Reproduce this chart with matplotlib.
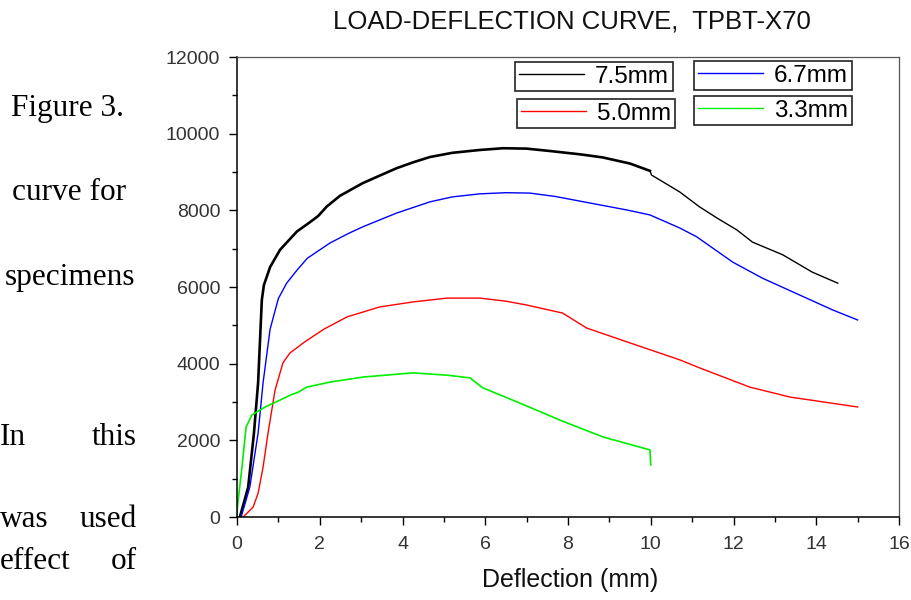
import matplotlib
matplotlib.use("Agg")
import matplotlib.pyplot as plt
from matplotlib.lines import Line2D
from matplotlib.ticker import MultipleLocator

# curves: deflection (mm), load
black_x = [0.07, 0.27, 0.41, 0.51, 0.6, 0.65, 0.8, 1.04, 1.45, 1.75, 1.96, 2.17, 2.49, 3.04,
           3.5, 3.86, 4.25, 4.66, 5.2, 5.87, 6.43, 7.0, 7.63, 8.3, 8.84, 9.5, 9.98,
           10.02, 10.7, 11.18, 11.6, 12.08, 12.46, 13.19, 13.9, 14.52]
black_y = [0, 780, 2190, 3500, 5660, 6050, 6520, 6970, 7450, 7680, 7850, 8100, 8380, 8710,
           8930, 9100, 9250, 9390, 9500, 9575, 9620, 9610, 9540, 9460, 9380, 9220, 9030,
           8920, 8480, 8090, 7800, 7490, 7170, 6840, 6390, 6100]
black_split = 27  # noisy (thick) part of the record ends near 10 mm

blue_x = [0.1, 0.31, 0.51, 0.63, 0.8, 1.0, 1.2, 1.45, 1.7, 2.25, 2.7, 3.04, 3.86, 4.66,
          5.2, 5.87, 6.5, 7.08, 7.7, 8.29, 9.42, 9.98, 10.7, 11.11, 11.98, 12.7, 13.6,
          14.4, 15.0]
blue_y = [0, 780, 2190, 3500, 4900, 5700, 6100, 6440, 6750, 7150, 7400, 7570, 7930, 8220,
          8350, 8430, 8460, 8450, 8360, 8240, 8010, 7880, 7540, 7310, 6650, 6230, 5790,
          5400, 5140]

red_x = [0.15, 0.39, 0.51, 0.63, 0.75, 0.92, 1.11, 1.28, 1.64, 2.1, 2.66, 3.45, 4.25, 5.07,
         5.87, 6.5, 7.0, 7.87, 8.45, 9.42, 10.7, 11.18, 12.39, 13.36, 15.0]
red_y = [0, 260, 620, 1300, 2190, 3310, 4020, 4280, 4570, 4900, 5220, 5480, 5610, 5710,
         5710, 5630, 5530, 5320, 4930, 4570, 4100, 3890, 3390, 3130, 2870]

green_x = [0, 0.01, 0.12, 0.22, 0.36, 0.68, 1.04, 1.33, 1.47, 1.69, 2.25, 3.04, 4.25, 5.07,
           5.63, 5.94, 6.84, 7.8, 8.84, 9.98, 10.0]
green_y = [0, 260, 1300, 2350, 2660, 2870, 3050, 3200, 3250, 3390, 3520, 3650, 3760, 3700,
           3630, 3370, 2970, 2530, 2090, 1750, 1360]

labels = ["7.5mm", "6.7mm", "5.0mm", "3.3mm"]
colors = ["black", "#0000ff", "#ff0000", "#00ee00"]

W, H = 911, 600
fig = plt.figure(figsize=(W / 100, H / 100), dpi=100)
plt.rcParams['font.family'] = ['Liberation Sans', 'DejaVu Sans']

def fx(px):
    return px / W

def fy(py):
    return 1 - py / H

ax = fig.add_axes([fx(237), fy(517), fx(899) - fx(237), fy(57) - fy(517)])

ax.plot(black_x[:black_split], black_y[:black_split], color=colors[0], lw=1.9)
ax.plot(black_x[black_split - 1:], black_y[black_split - 1:], color=colors[0], lw=1.0)
ax.plot(blue_x, blue_y, color=colors[1], lw=1.0)
ax.plot(red_x, red_y, color=colors[2], lw=1.0)
ax.plot(green_x, green_y, color=colors[3], lw=1.2)

ax.set_xlim(0, 16)
ax.set_ylim(0, 12000)
ax.xaxis.set_major_locator(MultipleLocator(2))
ax.xaxis.set_minor_locator(MultipleLocator(1))
ax.yaxis.set_major_locator(MultipleLocator(2000))
ax.yaxis.set_minor_locator(MultipleLocator(1000))
ax.tick_params(which='major', direction='out', length=6, width=1, labelsize=14,
               labelcolor='#333333', pad=6)
ax.tick_params(axis='x', which='major', pad=8)
ax.tick_params(which='minor', direction='out', length=3.5, width=1)
for s in ['left', 'bottom']:
    ax.spines[s].set_linewidth(1.1)
for s in ['top', 'right']:
    ax.spines[s].set_linewidth(0.9)
    ax.spines[s].set_color('#555555')

# four separate legend boxes like the original
boxes = [(515, 62), (694, 61), (517, 99), (694, 96)]
for lab, col, (bx, by) in zip(labels, colors, boxes):
    h = Line2D([], [], color=col, lw=1.0)
    leg = fig.legend([h], [lab], loc='upper left', bbox_to_anchor=(fx(bx), fy(by)),
                     bbox_transform=fig.transFigure, borderaxespad=0, fontsize=17.5,
                     frameon=True, fancybox=False, edgecolor='#222222', framealpha=1,
                     borderpad=0.15, handlelength=2.7, handletextpad=0.45)
    leg.get_frame().set_linewidth(1.2)

fig.text(fx(572), fy(22), "LOAD-DEFLECTION CURVE,  TPBT-X70", ha='center', va='center',
         fontsize=18.5, color='#111111')
fig.text(fx(570), fy(580), "Deflection (mm)", ha='center', va='center', fontsize=18,
         color='#111111')

# text of the page around the figure
serif = dict(family='Liberation Serif', fontsize=22.5, color='black', va='baseline')
fig.text(fx(124), fy(116), "Figure 3.", ha='right', **serif)
fig.text(fx(126), fy(200), "curve for", ha='right', **serif)
fig.text(fx(135), fy(285), "specimens", ha='right', **serif)
fig.text(fx(0), fy(445), "In", ha='left', **serif)
fig.text(fx(137), fy(445), "this", ha='right', **serif)
fig.text(fx(0), fy(527), "was", ha='left', **serif)
fig.text(fx(137), fy(527), "used", ha='right', **serif)
fig.text(fx(0), fy(569), "effect", ha='left', **serif)
fig.text(fx(137), fy(569), "of", ha='right', **serif)

fig.savefig("out.png", dpi=100)
